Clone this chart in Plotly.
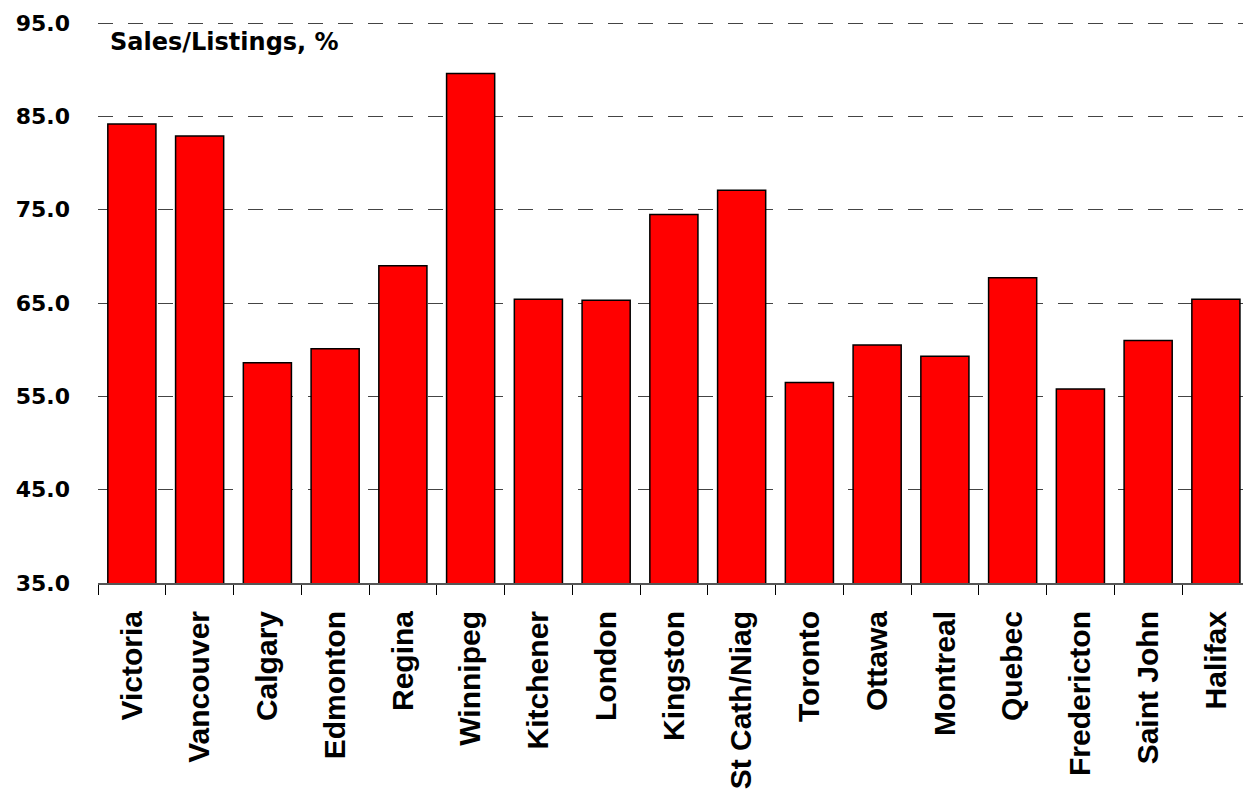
import plotly.graph_objects as go

cities = ["Victoria", "Vancouver", "Calgary", "Edmonton", "Regina", "Winnipeg",
          "Kitchener", "London", "Kingston", "St Cath/Niag", "Toronto", "Ottawa",
          "Montreal", "Quebec", "Fredericton", "Saint John", "Halifax"]
sales_listings = [84.2, 82.9, 58.6, 60.1, 69.0, 89.6, 65.4, 65.3, 74.5, 77.1,
                  56.5, 60.5, 59.3, 67.7, 55.8, 61.0, 65.4]
y_ticks = [35, 45, 55, 65, 75, 85, 95]
y_tick_labels = ["35.0", "45.0", "55.0", "65.0", "75.0", "85.0", "95.0"]
chart_title = "Sales/Listings, %"

fig = go.Figure(go.Bar(
    x=cities, y=sales_listings,
    marker=dict(color="#FF0000", line=dict(color="#000000", width=1.5)),
))

fig.update_layout(
    width=1243, height=790,
    margin=dict(l=98, r=0, t=22, b=207),
    paper_bgcolor="white", plot_bgcolor="white",
    bargap=0.29,
    showlegend=False,
    annotations=[dict(
        text="<b>" + chart_title + "</b>", xref="paper", yref="paper",
        x=0.0085, y=0.965, xanchor="left", yanchor="middle", showarrow=False,
        font=dict(family="DejaVu Sans", size=24, color="#000000"),
    )],
)

fig.update_xaxes(
    type="category", range=[-0.5, 16.4],
    showline=True, linecolor="#555555", linewidth=2,
    ticks="outside", ticklen=10, tickcolor="#000000", tickwidth=1,
    tickson="boundaries", tickangle=-90, ticklabelstandoff=14,
    tickfont=dict(family="Liberation Sans", size=30, color="#000000", weight="bold"),
    showgrid=False,
)

fig.update_yaxes(
    range=[35, 95.12], tickvals=y_ticks, ticktext=y_tick_labels,
    showline=False, ticks="", ticklabelstandoff=27,
    showgrid=True, gridcolor="#444444", gridwidth=1, griddash="15px,15px",
    zeroline=False,
    tickfont=dict(family="DejaVu Sans", size=22, color="#000000", weight="bold"),
)

fig.write_html("out.html", config={"displayModeBar": False},
               post_script="document.body.style.margin='0';")
